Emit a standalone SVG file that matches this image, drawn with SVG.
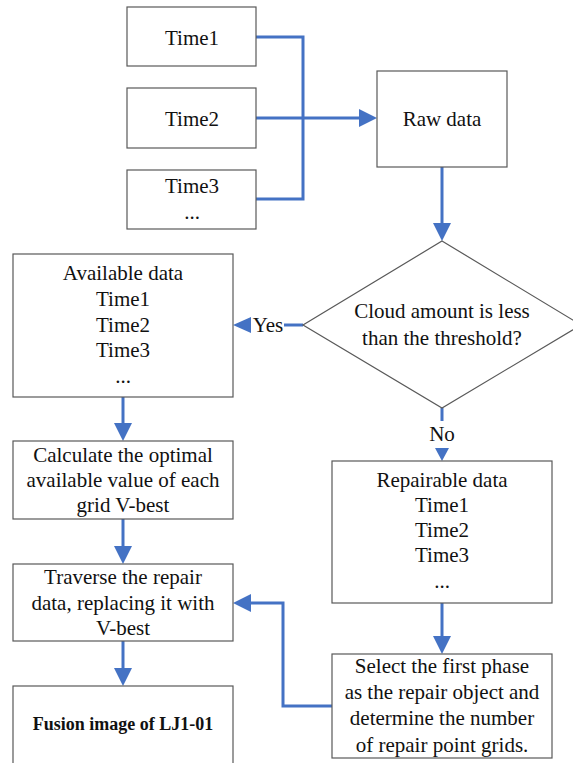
<svg xmlns="http://www.w3.org/2000/svg" width="573" height="763" viewBox="0 0 573 763">
<style>
.box{fill:#fff;stroke:#595959;stroke-width:1.2}
.t{font-family:"Liberation Serif","Times New Roman",serif;font-size:21px;fill:#111;text-anchor:middle}
.b{font-family:"Liberation Serif","Times New Roman",serif;font-size:18px;font-weight:bold;fill:#111;text-anchor:middle}
.c{fill:none;stroke:#4472C4;stroke-width:3}
.h{fill:#4472C4}
</style>
<defs>
<marker id="arr" markerUnits="userSpaceOnUse" markerWidth="18" markerHeight="18" viewBox="0 0 18 18" refX="8" refY="9" orient="auto">
<path d="M0,0 L18,9 L0,18 z" fill="#4472C4"/>
</marker>
</defs>
<rect width="573" height="763" fill="#fff"/>
<g id="connectors">
<path class="c" d="M256,37 H303 V199 H256"/>
<path class="c" d="M256,118 H367" marker-end="url(#arr)"/>
<path class="c" d="M442,167 V231" marker-end="url(#arr)"/>
<path class="c" d="M303,325 H284"/>
<polygon class="h" points="251,317 251,333 233,325"/>
<path class="c" d="M442,408 V421"/>
<polygon class="h" points="435,448 449,448 442,461"/>
<path class="c" d="M123,397 V431" marker-end="url(#arr)"/>
<path class="c" d="M123,519 V554" marker-end="url(#arr)"/>
<path class="c" d="M123,641 V676" marker-end="url(#arr)"/>
<path class="c" d="M442,603 V644" marker-end="url(#arr)"/>
<path class="c" d="M332,706 H283 V603 H243" marker-end="url(#arr)"/>
<text class="t" x="268" y="332">Yes</text>
<text class="t" x="442" y="441">No</text>
</g>
<g id="time1"><rect class="box" x="127" y="7" width="129" height="59"/><text class="t" x="192" y="45">Time1</text></g>
<g id="time2"><rect class="box" x="127" y="88" width="129" height="60"/><text class="t" x="192" y="126">Time2</text></g>
<g id="time3"><rect class="box" x="127" y="170" width="129" height="59"/><text class="t" x="192" y="193">Time3</text><text class="t" x="192" y="219">...</text></g>
<g id="raw"><rect class="box" x="377" y="71" width="130" height="96"/><text class="t" x="442" y="126">Raw data</text></g>
<g id="decision"><polygon class="box" points="442,241 581,325 442,408 303,325"/><text class="t" x="442" y="318">Cloud amount is less</text><text class="t" x="442" y="345">than the threshold?</text></g>
<g id="available"><rect class="box" x="13" y="254" width="220" height="143"/>
<text class="t" x="123" y="280">Available data</text><text class="t" x="123" y="306">Time1</text><text class="t" x="123" y="332">Time2</text><text class="t" x="123" y="357">Time3</text><text class="t" x="123" y="383">...</text></g>
<g id="calculate"><rect class="box" x="13" y="441" width="220" height="78"/>
<text class="t" x="123" y="462">Calculate the optimal</text><text class="t" x="123" y="487">available value of each</text><text class="t" x="123" y="512">grid V-best</text></g>
<g id="traverse"><rect class="box" x="13" y="564" width="220" height="77"/>
<text class="t" x="123" y="584">Traverse the repair</text><text class="t" x="123" y="610">data, replacing it with</text><text class="t" x="123" y="635">V-best</text></g>
<g id="fusion"><rect class="box" x="13" y="686" width="220" height="80"/><text class="b" x="123" y="730">Fusion image of LJ1-01</text></g>
<g id="repairable"><rect class="box" x="332" y="461" width="220" height="142"/>
<text class="t" x="442" y="487">Repairable data</text><text class="t" x="442" y="512">Time1</text><text class="t" x="442" y="537">Time2</text><text class="t" x="442" y="562">Time3</text><text class="t" x="442" y="588">...</text></g>
<g id="select"><rect class="box" x="332" y="654" width="220" height="104"/>
<text class="t" x="442" y="673">Select the first phase</text><text class="t" x="442" y="699">as the repair object and</text><text class="t" x="442" y="725">determine the number</text><text class="t" x="442" y="752">of repair point grids.</text></g>
</svg>
